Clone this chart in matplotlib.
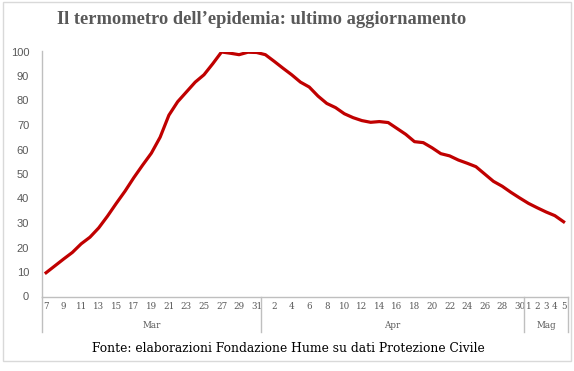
import matplotlib.pyplot as plt
from matplotlib.patches import Rectangle

# days shown on the category axis (Mar 7 -> May 5)
days_mar = list(range(7, 32))
days_apr = list(range(1, 31))
days_mag = list(range(1, 6))
months = ["Mar", "Apr", "Mag"]

# index values
values = [9.7, 12.5, 15.3, 18.0, 21.5, 24.2, 28.0, 32.8, 38.0, 43.0,
          48.5, 53.6, 58.5, 65.0, 74.0, 79.5, 83.5, 87.5, 90.5, 95.0,
          99.8, 99.3, 98.7, 99.7, 99.6, 98.7, 96.0, 93.2, 90.5, 87.5,
          85.5, 81.8, 78.8, 77.1, 74.6, 73.0, 71.8, 71.1, 71.4, 71.0,
          68.6, 66.2, 63.2, 62.8, 60.7, 58.3, 57.4, 55.7, 54.4, 53.0,
          50.0, 47.0, 45.0, 42.5, 40.2, 38.0, 36.2, 34.5, 33.0, 30.5]

title = "Il termometro dell\u2019epidemia: ultimo aggiornamento"
source = "Fonte: elaborazioni Fondazione Hume su dati Protezione Civile"

grey = "#595959"
axis_grey = "#bfbfbf"
red = "#C00000"


def main():
    fig = plt.figure(figsize=(5.74, 3.71), dpi=100)

    # outer chart border
    fig.patches.append(Rectangle((2.5 / 574, 1 - 361 / 371), 568.5 / 574, 359.5 / 371,
                                 transform=fig.transFigure, fill=False,
                                 edgecolor="#d9d9d9", linewidth=1.0))

    ax = fig.add_axes([41.7 / 574, 1 - 296.5 / 371, 526.3 / 574, 245 / 371])

    day_labels = days_mar + days_apr + days_mag
    x = list(range(len(values)))
    ax.plot(x, values, color=red, linewidth=2.3, solid_joinstyle="round")

    ax.set_xlim(-0.5, len(values) - 0.5)
    ax.set_ylim(0, 100)
    ax.set_yticks(range(0, 101, 10))
    ax.tick_params(axis="y", length=0, pad=9, labelsize=8, labelcolor=grey)
    for lab in ax.get_yticklabels():
        lab.set_fontfamily("Liberation Sans")

    # every second day in Mar/Apr, every day in May
    n_mar, n_apr = len(days_mar), len(days_apr)
    tick_idx = [i for i in x if (i < n_mar + n_apr and i % 2 == 0) or i >= n_mar + n_apr]
    ax.set_xticks(tick_idx)
    ax.set_xticklabels([str(day_labels[i]) for i in tick_idx],
                       fontfamily="DejaVu Serif", fontsize=6.3, color=grey)
    ax.tick_params(axis="x", length=0, pad=4)

    for side in ["top", "right"]:
        ax.spines[side].set_visible(False)
    for side in ["left", "bottom"]:
        ax.spines[side].set_color(axis_grey)
        ax.spines[side].set_linewidth(1.0)

    # month separators and labels
    bounds = [-0.5, n_mar - 0.5, n_mar + n_apr - 0.5, len(values) - 0.5]
    trans = ax.get_xaxis_transform()
    for b in bounds:
        ax.plot([b, b], [0, -0.145], transform=trans, color=axis_grey,
                linewidth=1.0, clip_on=False)
    for m, a, b in zip(months, bounds[:-1], bounds[1:]):
        ax.text((a + b) / 2, -0.12, m, transform=trans, ha="center", va="center",
                fontfamily="DejaVu Serif", fontsize=6.3, color=grey)

    fig.text(0.455, 1 - 20 / 371, title, ha="center", va="center",
             fontfamily="Liberation Serif", fontweight="bold", fontsize=13.3, color=grey)
    fig.text(0.502, 1 - 348 / 371, source, ha="center", va="center",
             fontfamily="DejaVu Serif", fontsize=8.8, color="black")

    fig.savefig("out.png", dpi=100)


if __name__ == '__main__':
    main()
